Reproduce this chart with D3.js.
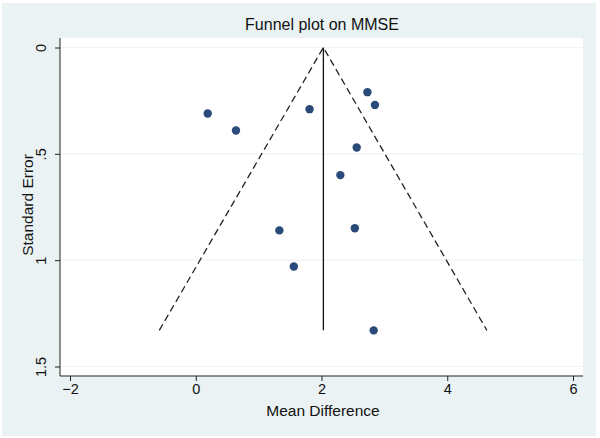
<!DOCTYPE html>
<html>
<head>
<meta charset="utf-8">
<script src="https://cdn.jsdelivr.net/npm/d3@7"></script>
<style>
  html, body { margin: 0; padding: 0; background: #ffffff; }
  svg { display: block; font-family: "Liberation Sans", Arial, sans-serif; }
</style>
</head>
<body>
<svg id="chart" width="600" height="438"></svg>
<script>
// ---- data ----
const titleText = "Funnel plot on MMSE";
const xLabel = "Mean Difference";
const yLabel = "Standard Error";
const meanDiff = [0.19, 0.64, 1.81, 2.73, 2.85, 2.56, 2.30, 1.33, 2.53, 1.56, 2.83];
const stdErr   = [0.31, 0.39, 0.29, 0.21, 0.27, 0.47, 0.60, 0.86, 0.85, 1.03, 1.33];
const pooled = [2.03];
const funnelX = [-0.58, 2.03, 4.63];
const funnelSE = [1.33, 0, 1.33];
const xTicks = [-2, 0, 2, 4, 6];
const yTicks = [0, 0.5, 1, 1.5];
const yTickLabels = ["0", ".5", "1", "1.5"];

// ---- layout ----
const svg = d3.select("#chart");
const plot = { left: 60, right: 583, top: 38, bottom: 376 };

const x = d3.scaleLinear().domain([-2, 6]).range([70, 573]);
const y = d3.scaleLinear().domain([0, 1.5]).range([47.5, 366.5]);

// outer background
svg.append("rect").attr("x", 2).attr("y", 3).attr("width", 594).attr("height", 433)
  .attr("fill", "#eaf2f3");
// plot region
svg.append("rect").attr("x", plot.left).attr("y", plot.top)
  .attr("width", plot.right - plot.left).attr("height", plot.bottom - plot.top)
  .attr("fill", "#ffffff");

// gridlines
svg.append("g").selectAll("line").data(yTicks).join("line")
  .attr("x1", plot.left).attr("x2", plot.right)
  .attr("y1", d => y(d)).attr("y2", d => y(d))
  .attr("stroke", "#edf4f5").attr("stroke-width", 1.2);

// axes
const xAxis = d3.axisBottom(x).tickValues(xTicks).tickSize(5).tickPadding(3)
  .tickFormat(d3.format("d"));
const gx = svg.append("g").attr("transform", `translate(0,${plot.bottom})`).call(xAxis);
gx.select(".domain").attr("d", `M${plot.left},0H${plot.right}`).attr("stroke", "#222");
gx.selectAll(".tick line").attr("stroke", "#222");
gx.selectAll(".tick text").attr("font-size", 14.5).attr("fill", "#111")
  .attr("font-family", "Liberation Sans, Arial, sans-serif");

const yAxis = d3.axisLeft(y).tickValues(yTicks).tickSize(5)
  .tickFormat((d, i) => yTickLabels[i]);
const gy = svg.append("g").attr("transform", `translate(${plot.left},0)`).call(yAxis);
gy.select(".domain").attr("d", `M0,${plot.top}V${plot.bottom}`).attr("stroke", "#222");
gy.selectAll(".tick line").attr("stroke", "#222");
gy.selectAll(".tick text")
  .attr("font-size", 14.5).attr("fill", "#111")
  .attr("font-family", "Liberation Sans, Arial, sans-serif")
  .attr("x", null).attr("dy", null)
  .attr("text-anchor", "middle")
  .attr("transform", "translate(-14,0) rotate(-90)");

// funnel (pseudo 95% limits)
svg.append("path")
  .datum(funnelX.map((d, i) => [d, funnelSE[i]]))
  .attr("d", d3.line().x(d => x(d[0])).y(d => y(d[1])))
  .attr("fill", "none").attr("stroke", "#222").attr("stroke-width", 1.3)
  .attr("stroke-dasharray", "7,4");

// pooled estimate line
svg.append("g").selectAll("line").data(pooled).join("line")
  .attr("x1", d => x(d)).attr("x2", d => x(d))
  .attr("y1", y(0)).attr("y2", y(d3.max(stdErr)))
  .attr("stroke", "#111").attr("stroke-width", 1.3);

// points
svg.append("g").selectAll("circle").data(meanDiff).join("circle")
  .attr("cx", d => x(d)).attr("cy", (d, i) => y(stdErr[i])).attr("r", 4.2)
  .attr("fill", "#2a4a7a");

// title and labels
svg.append("text").attr("x", 322).attr("y", 30).attr("text-anchor", "middle")
  .attr("font-size", 16).attr("fill", "#111").text(titleText);
svg.append("text").attr("x", 323).attr("y", 416).attr("text-anchor", "middle")
  .attr("font-size", 15.5).attr("fill", "#111").text(xLabel);
svg.append("text").attr("transform", "translate(33,205) rotate(-90)")
  .attr("text-anchor", "middle").attr("font-size", 15.5).attr("fill", "#111").text(yLabel);
</script>
</body>
</html>
